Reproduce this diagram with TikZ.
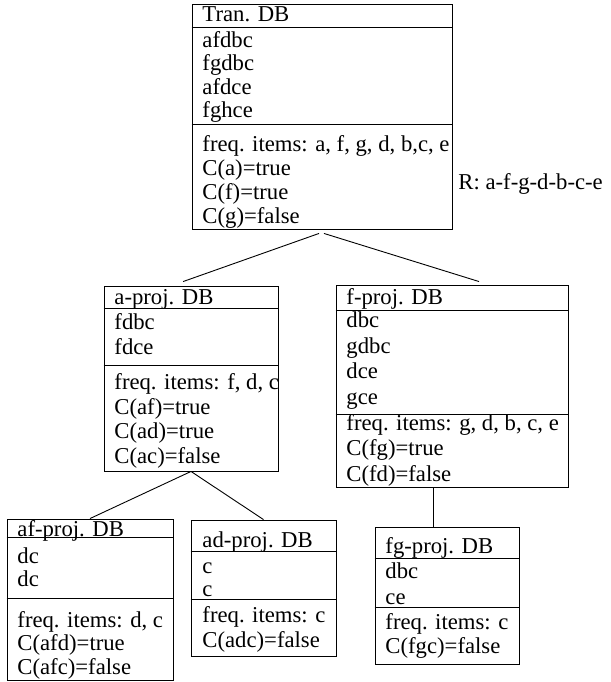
\documentclass[tikz,border=0pt]{standalone}
\usepackage{fontspec}
\setmainfont{Liberation Serif}
\usetikzlibrary{calc}

\begin{document}
\begin{tikzpicture}[x=1pt, y=-1pt, line width=0.9pt,
  dbbox/.style={draw, inner sep=0pt},
  dbrow/.style={anchor=base west, inner sep=0pt, font=\fontsize{22.7}{25}\selectfont}]
\useasboundingbox (0,0) rectangle (610,682);
% --- transaction DB ---
\node[dbbox, minimum width=260pt, minimum height=225pt] (tran) at (322,116.5) {};
\draw ([yshift=-24pt]tran.north west) -- ([yshift=-24pt]tran.north east);
\draw ([yshift=-121pt]tran.north west) -- ([yshift=-121pt]tran.north east);
\node[dbrow] (tran-h) at (202,22) {Tran. DB};
\foreach \entry [count=\i from 0] in {afdbc, fgdbc, afdce, fghce}
  \node[dbrow] (tran-d\i) at (202,47.5+23.4*\i) {\entry};
\foreach \entry [count=\i from 0] in {{freq. items: a, f, g, d, b,c, e}, C(a)=true, C(f)=true, C(g)=false}
  \node[dbrow] (tran-i\i) at (202,151.5+24*\i) {\entry};
\node[dbrow] (order) at (458,189.5) {R: a-f-g-d-b-c-e};
% --- a-projected DB ---
\node[dbbox, minimum width=174pt, minimum height=185pt] (aproj) at (191,378.5) {};
\draw ([yshift=-23pt]aproj.north west) -- ([yshift=-23pt]aproj.north east);
\draw ([yshift=-80pt]aproj.north west) -- ([yshift=-80pt]aproj.north east);
\node[dbrow] (aproj-h) at (114,304.5) {a-proj. DB};
\foreach \entry [count=\i from 0] in {fdbc, fdce}
  \node[dbrow] (aproj-d\i) at (114,329.5+25*\i) {\entry};
\foreach \entry [count=\i from 0] in {{freq. items: f, d, c}, C(af)=true, C(ad)=true, C(ac)=false}
  \node[dbrow] (aproj-i\i) at (114,389.5+24.7*\i) {\entry};
% --- f-projected DB ---
\node[dbbox, minimum width=232pt, minimum height=202pt] (fproj) at (452,386) {};
\draw ([yshift=-26pt]fproj.north west) -- ([yshift=-26pt]fproj.north east);
\draw ([yshift=-130pt]fproj.north west) -- ([yshift=-130pt]fproj.north east);
\node[dbrow] (fproj-h) at (346,304.5) {f-proj. DB};
\foreach \entry [count=\i from 0] in {dbc, gdbc, dce, gce}
  \node[dbrow] (fproj-d\i) at (346,327.5+25.5*\i) {\entry};
\foreach \entry [count=\i from 0] in {{freq. items: g, d, b, c, e}, C(fg)=true, C(fd)=false}
  \node[dbrow] (fproj-i\i) at (346,430+25.5*\i) {\entry};
% --- af-projected DB ---
\node[dbbox, minimum width=166pt, minimum height=161pt] (afproj) at (90,599.5) {};
\draw ([yshift=-19pt]afproj.north west) -- ([yshift=-19pt]afproj.north east);
\draw ([yshift=-80pt]afproj.north west) -- ([yshift=-80pt]afproj.north east);
\node[dbrow] (afproj-h) at (17,536) {af-proj. DB};
\foreach \entry [count=\i from 0] in {dc, dc}
  \node[dbrow] (afproj-d\i) at (17,563+23.5*\i) {\entry};
\foreach \entry [count=\i from 0] in {{freq. items: d, c}, C(afd)=true, C(afc)=false}
  \node[dbrow] (afproj-i\i) at (17,627+23.5*\i) {\entry};
% --- ad-projected DB ---
\node[dbbox, minimum width=145pt, minimum height=136pt] (adproj) at (263.5,588) {};
\draw ([yshift=-32pt]adproj.north west) -- ([yshift=-32pt]adproj.north east);
\draw ([yshift=-80pt]adproj.north west) -- ([yshift=-80pt]adproj.north east);
\node[dbrow] (adproj-h) at (202,547) {ad-proj. DB};
\foreach \entry [count=\i from 0] in {c, c}
  \node[dbrow] (adproj-d\i) at (202,573.5+23*\i) {\entry};
\foreach \entry [count=\i from 0] in {{freq. items: c}, C(adc)=false}
  \node[dbrow] (adproj-i\i) at (202,622.5+25*\i) {\entry};
% --- fg-projected DB ---
\node[dbbox, minimum width=144pt, minimum height=137pt] (fgproj) at (447,595.5) {};
\draw ([yshift=-32pt]fgproj.north west) -- ([yshift=-32pt]fgproj.north east);
\draw ([yshift=-81pt]fgproj.north west) -- ([yshift=-81pt]fgproj.north east);
\node[dbrow] (fgproj-h) at (385,553) {fg-proj. DB};
\foreach \entry [count=\i from 0] in {dbc, ce}
  \node[dbrow] (fgproj-d\i) at (385,578.5+25.5*\i) {\entry};
\foreach \entry [count=\i from 0] in {{freq. items: c}, C(fgc)=false}
  \node[dbrow] (fgproj-i\i) at (385,629.5+24*\i) {\entry};
% --- tree edges ---
\coordinate (ta) at ($(aproj.north west)!0.455!(aproj.north east)$);
\coordinate (tf) at ($(fproj.north west)!0.616!(fproj.north east)$);
\draw ([xshift=-3pt,yshift=-4pt]tran.south) -- ([yshift=4pt]ta);
\draw ([xshift=2pt,yshift=-4pt]tran.south) -- ([yshift=3pt]tf);
\draw (aproj.south) -- (afproj.north);
\draw (aproj.south) -- (adproj.north);
\coordinate (fb) at ($(fproj.south west)!0.419!(fproj.south east)$);
\draw (fb) -- (fb |- fgproj.north);
\end{tikzpicture}
\end{document}
